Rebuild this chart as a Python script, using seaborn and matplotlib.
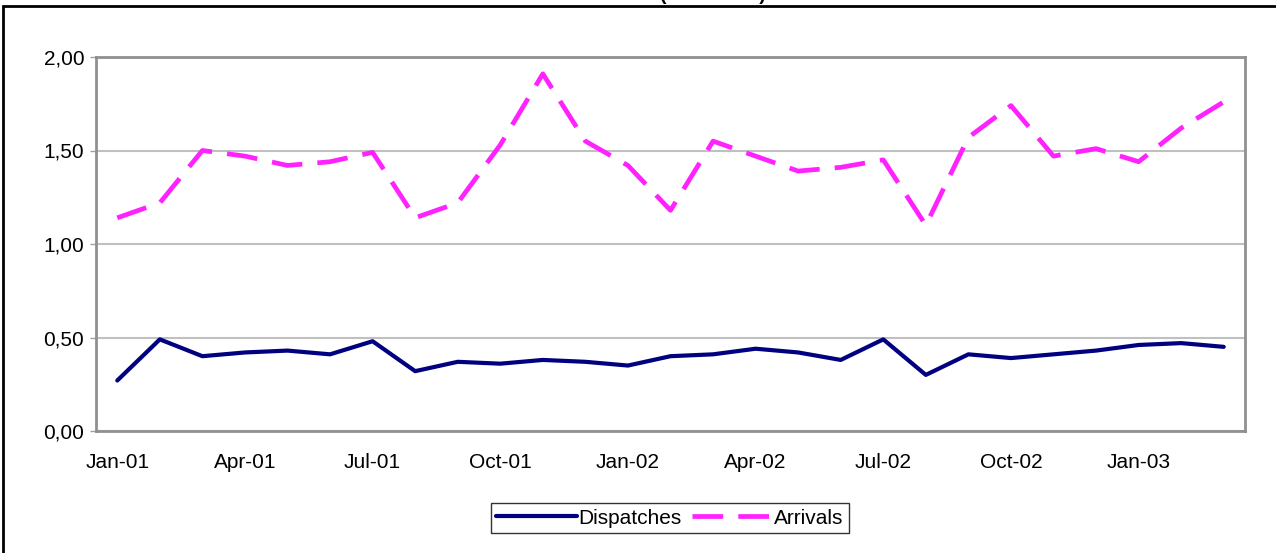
import pandas as pd
import numpy as np
import matplotlib.pyplot as plt
import matplotlib.ticker as ticker
from matplotlib.patches import Rectangle
import seaborn as sns

# Monthly values, Jan-01 .. Mar-03
months = ["Jan-01", "Feb-01", "Mar-01", "Apr-01", "May-01", "Jun-01", "Jul-01",
          "Aug-01", "Sep-01", "Oct-01", "Nov-01", "Dec-01", "Jan-02", "Feb-02",
          "Mar-02", "Apr-02", "May-02", "Jun-02", "Jul-02", "Aug-02", "Sep-02",
          "Oct-02", "Nov-02", "Dec-02", "Jan-03", "Feb-03", "Mar-03"]
dispatches = [0.27, 0.49, 0.40, 0.42, 0.43, 0.41, 0.48, 0.32, 0.37, 0.36,
              0.38, 0.37, 0.35, 0.40, 0.41, 0.44, 0.42, 0.38, 0.49, 0.30,
              0.41, 0.39, 0.41, 0.43, 0.46, 0.47, 0.45]
arrivals = [1.14, 1.22, 1.50, 1.47, 1.42, 1.44, 1.49, 1.14, 1.22, 1.53,
            1.91, 1.55, 1.42, 1.18, 1.55, 1.47, 1.39, 1.41, 1.45, 1.10,
            1.57, 1.74, 1.47, 1.51, 1.44, 1.62, 1.76]
title = "(2001-2003)"

df = pd.DataFrame({"pos": np.arange(len(months)), "month": months,
                   "Dispatches": dispatches, "Arrivals": arrivals})

sns.set_style("white")
plt.rcParams["font.family"] = ["Liberation Sans", "DejaVu Sans"]
plt.rcParams["text.color"] = "black"
plt.rcParams["xtick.labelcolor"] = "black"
plt.rcParams["ytick.labelcolor"] = "black"

fig = plt.figure(figsize=(12.76, 5.53), dpi=100)
ax = fig.add_axes([96 / 1276, 1 - 431 / 553, (1245 - 96) / 1276, (431 - 57) / 553])

sns.lineplot(data=df, x="pos", y="Dispatches", ax=ax, color="#000080",
             linewidth=3.0, label="Dispatches", solid_capstyle="round")
sns.lineplot(data=df, x="pos", y="Arrivals", ax=ax, color="#FF22FF",
             linewidth=3.4, label="Arrivals", dashes=(6.5, 3.2))

ax.set_xlim(-0.5, len(months) - 0.5)
ax.set_ylim(0, 2.0)
ax.set_xlabel("")
ax.set_ylabel("")

# y axis
ax.yaxis.set_major_locator(ticker.MultipleLocator(0.5))
ax.yaxis.set_major_formatter(ticker.FuncFormatter(lambda v, p: f"{v:.2f}".replace(".", ",")))
ax.grid(axis="y", color="#c0c0c0", linewidth=1.5)
ax.set_axisbelow(True)

# x axis: labels every 3 months, tick marks between categories
ax.set_xticks(df["pos"][::3])
ax.set_xticklabels(df["month"][::3])
ax.xaxis.set_minor_locator(ticker.FixedLocator(np.arange(-0.5, len(months), 1.0)))
ax.tick_params(axis="x", which="major", length=0, pad=16, labelsize=15, labelcolor="black")
ax.tick_params(axis="x", which="minor", length=3, width=1, color="#a0a0a0", direction="out")
ax.tick_params(axis="y", which="major", length=4.5, width=1, color="#a0a0a0",
               direction="out", left=True, labelsize=15, pad=4, labelcolor="black")

for side in ["left", "bottom", "top", "right"]:
    ax.spines[side].set_visible(True)
    ax.spines[side].set_color("#909090")
    ax.spines[side].set_linewidth(2)

leg = ax.legend(loc="center", bbox_to_anchor=(670 / 1276, 1 - 518 / 553),
                bbox_transform=fig.transFigure, ncol=2, frameon=True, fancybox=False,
                edgecolor="black", fontsize=15, handlelength=3.9, handletextpad=0.05,
                columnspacing=0.5, borderpad=0.25, borderaxespad=0, labelcolor="black")
leg.get_frame().set_linewidth(1.0)

# outer chart frame, only left and top edges fall inside the picture
fig.add_artist(Rectangle((3 / 1276, -0.1), 1.2, 1.1 - 6 / 553, transform=fig.transFigure,
                         fill=False, edgecolor="black", linewidth=2))

# title mostly cut off above the frame
fig.text(660 / 1276, 1.0 + 0.5 / 553, title, ha="left", va="baseline", fontsize=14,
         fontweight="bold", color="black")

fig.savefig("out.png", dpi=100)
